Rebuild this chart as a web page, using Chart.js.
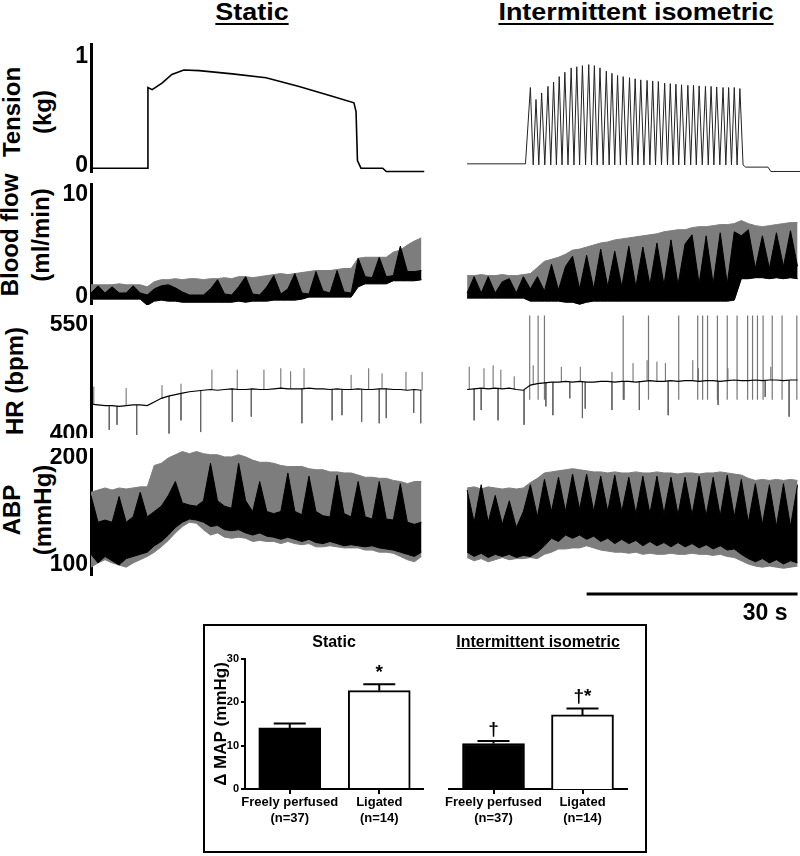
<!DOCTYPE html>
<html>
<head>
<meta charset="utf-8">
<script src="https://cdn.jsdelivr.net/npm/chart.js"></script>
<style>
body { margin: 0; background: #fff; }
#page { position: relative; width: 800px; height: 856px; overflow: hidden; font-family: 'Liberation Sans', Arial, sans-serif; font-weight: bold; color: #000; }
#page canvas { position: absolute; left: 0; }
.head { position: absolute; top: 0; font-size: 23px; line-height: 24px; white-space: nowrap; text-decoration: underline; text-decoration-thickness: 2px; text-underline-offset: 3px; transform: translateX(-50%) scaleX(1.17); }
.rowlab { position: absolute; font-size: 24px; line-height: 31px; text-align: center; white-space: nowrap; transform: translate(-50%, -50%) rotate(-90deg); }
.inset { position: absolute; left: 203px; top: 624px; width: 444px; height: 229px; border: 2px solid #000; box-sizing: border-box; }
.subhead { position: absolute; font-size: 16px; line-height: 18px; white-space: nowrap; transform: translateX(-50%); }
</style>
</head>
<body>
<div id="page">
  <div class="head" style="left:252px">Static</div>
  <div class="head" style="left:636px">Intermittent isometric</div>

  <div class="rowlab" style="left:27px; top:112px">Tension<br>(kg)</div>
  <div class="rowlab" style="left:25px; top:235px">Blood flow<br>(ml/min)</div>
  <div class="rowlab" style="left:14px; top:381px">HR (bpm)</div>
  <div class="rowlab" style="left:27px; top:510px">ABP<br>(mmHg)</div>

  <canvas id="chartTension"></canvas>
  <canvas id="chartFlow"></canvas>
  <canvas id="chartHeartRate"></canvas>
  <canvas id="chartPressure"></canvas>

  <div class="inset"></div>
  <div class="subhead" style="left:334px; top:633px">Static</div>
  <div class="subhead" style="left:538px; top:633px; text-decoration:underline">Intermittent isometric</div>
  <canvas id="chartStaticMap"></canvas>
  <canvas id="chartIntMap"></canvas>
</div>

<script>
// ---- trace data (time in s from the start of each panel, one sample per second unless timed) ----
var intOffset = 53.5;   // the intermittent panel starts 53.5 s along the shared time axis
var xMax = 100.85;

// tension (kg)
var staticTensionTime = [0, 7.97, 8.1, 8.7, 10.1, 11.5, 13.2, 15.4, 20.1, 24.9, 29.6, 34.3, 37.4, 37.7, 37.9, 38.4, 41.5, 42.0, 47.4];
var staticTensionValue = [-0.02, -0.02, 0.72, 0.70, 0.76, 0.84, 0.88, 0.875, 0.845, 0.81, 0.73, 0.64, 0.58, 0.50, 0.05, -0.02, -0.02, -0.05, -0.05];
var intTensionPreTime = [0, 8.3];
var intTensionPreValue = [0.02, 0.02];
var intContractionTime = [9.0, 9.8, 10.6, 11.5, 12.3, 13.1, 13.9, 14.8, 15.6, 16.4, 17.3, 18.1, 18.9, 19.8, 20.6, 21.4, 22.2, 23.1, 23.9,
  24.7, 25.6, 26.4, 27.2, 28.1, 28.9, 29.7, 30.5, 31.4, 32.2, 33.0, 33.9, 34.7, 35.5, 36.4, 37.2, 38.0, 38.8];
var intTensionPeaks = [0.72, 0.61, 0.67, 0.73, 0.77, 0.82, 0.86, 0.90, 0.91, 0.92, 0.93, 0.92, 0.90, 0.87, 0.85, 0.83, 0.82, 0.81, 0.80,
  0.79, 0.785, 0.78, 0.775, 0.76, 0.755, 0.75, 0.745, 0.74, 0.74, 0.735, 0.73, 0.73, 0.725, 0.72, 0.72, 0.72, 0.71];
var intTensionTrough = 0.01;
var intTensionPostTime = [39.6, 42.8, 43.2, 47.4];
var intTensionPostValue = [-0.01, -0.01, -0.05, -0.05];

// blood flow (ml/min): envelope of the pulse trace and top of the dark band
var staticFlowUpper = [1.2, 1.2, 1.2, 1.2, 1.3, 1.2, 1.2, 1.2, 1.0, 1.5, 1.7, 1.7, 1.8, 1.7, 1.8, 1.8, 1.7, 1.8, 1.8, 1.9, 1.8, 2.0, 2.0, 1.9,
  2.0, 2.1, 2.2, 2.3, 2.2, 2.3, 2.4, 2.5, 2.6, 2.6, 2.6, 2.7, 2.8, 2.8, 3.8, 3.9, 3.9, 3.9, 3.9, 4.4, 4.6, 5.1, 5.5, 5.8];
var staticFlowLower = [-0.2, -0.2, -0.2, -0.2, -0.2, -0.2, -0.2, -0.2, -0.8, -0.4, -0.3, -0.4, -0.4, -0.5, -0.5, -0.5, -0.5, -0.5, -0.5, -0.5, -0.5, -0.4, -0.5, -0.4,
  -0.4, -0.4, -0.3, -0.3, -0.3, -0.3, -0.2, 0.0, 0.0, 0.0, 0.0, 0.0, 0.0, 0.0, 1.0, 1.3, 1.3, 1.3, 1.3, 1.6, 1.6, 1.6, 1.6, 1.7];
var staticFlowDark = [0.4, 1.1, 0.4, 1.0, 0.4, 0.4, 1.1, 0.4, 0.2, 0.8, 1.1, 1.2, 0.9, 0.5, 0.2, 0.2, 0.2, 0.8, 1.7, 0.3, 0.2, 1.0, 2.0, 0.3,
  0.2, 1.0, 2.1, 0.3, 0.8, 2.3, 0.4, 0.3, 2.5, 0.6, 0.4, 2.6, 0.5, 0.4, 3.8, 2.0, 1.9, 3.9, 2.0, 2.1, 5.0, 2.5, 2.5, 2.6];
var intFlowUpper = [2.1, 2.1, 2.2, 2.1, 2.1, 2.2, 2.1, 2.1, 2.2, 2.3, 2.9, 3.5, 3.7, 3.9, 4.2, 4.6, 4.7, 4.9, 5.1, 5.3, 5.4, 5.6, 5.7, 5.8,
  5.9, 6.0, 6.1, 6.2, 6.4, 6.5, 6.6, 6.6, 6.8, 6.9, 6.9, 7.0, 7.1, 7.1, 7.2, 7.5, 7.2, 7.0, 6.9, 7.0, 7.1, 7.2, 7.3, 7.3];
var intFlowLower = [-0.1, -0.1, -0.1, -0.1, -0.1, -0.1, -0.1, -0.1, -0.1, -0.4, -0.4, -0.4, -0.4, -0.4, -0.5, -0.5, -0.7, -0.5, -0.4, -0.4, -0.4, -0.4, -0.4, -0.4,
  -0.4, -0.4, -0.4, -0.4, -0.4, -0.4, -0.4, -0.4, -0.4, -0.4, -0.4, -0.4, -0.4, -0.4, -0.3, 1.8, 1.8, 1.9, 1.9, 1.8, 1.9, 1.8, 1.9, 1.8];
var intFlowDark = [0.4, 2.0, 0.4, 2.0, 0.4, 1.5, 1.8, 0.4, 2.0, 0.8, 2.0, 0.6, 3.2, 0.7, 3.0, 4.0, 0.8, 4.1, 0.8, 4.7, 1.0, 4.5, 1.0, 5.0,
  1.0, 4.9, 1.2, 5.3, 1.2, 5.6, 1.2, 5.2, 6.1, 1.3, 6.0, 1.3, 6.3, 1.3, 6.4, 6.0, 6.6, 2.8, 6.0, 2.8, 6.3, 3.0, 6.5, 3.0];

// heart rate (bpm): running trace and the single-beat spikes
var staticHeartRate = [442, 441, 440, 440, 439, 440, 441, 441, 440, 445, 450, 453, 455, 457, 459, 460, 461, 462, 461, 462, 463, 462, 462, 463,
  462, 462, 463, 464, 463, 463, 463, 464, 463, 463, 462, 463, 462, 462, 463, 462, 462, 463, 463, 462, 462, 461, 462, 461];
var intHeartRate = [462, 463, 464, 463, 464, 463, 464, 462, 461, 468, 470, 471, 472, 472, 473, 472, 473, 472, 472, 473, 473, 472, 473, 473,
  472, 473, 474, 473, 473, 474, 473, 474, 474, 473, 474, 474, 473, 474, 475, 474, 474, 475, 474, 475, 475, 474, 475, 475];
var staticSpikeTime = [0.4, 2.6, 3.7, 5.0, 6.5, 10.1, 11.1, 12.8, 12.8, 15.6, 17.2, 20.1, 20.8, 22.8, 24.6, 27.0, 28.4, 30.0, 30.3, 34.3,
  35.7, 37.0, 38.5, 39.5, 41.0, 41.4, 42.0, 44.8, 45.9, 46.9, 47.1];
var staticSpikeTip = [466, 407, 414, 464, 400, 468, 402, 470, 420, 404, 489, 418, 489, 425, 489, 491, 487, 416, 491, 420,
  427, 482, 418, 491, 416, 484, 423, 486, 430, 416, 486];
var intSpikeTime = [0.3, 1.0, 2.0, 2.4, 3.7, 4.4, 4.8, 6.7, 8.1, 9.4, 11.2, 12.2, 13.4, 14.6, 16.1, 16.4, 16.8, 20.6, 20.6, 22.3, 23.6, 24.5,
  25.6, 27.0, 28.2, 28.6, 32.1, 32.9, 35.7, 37.1, 42.4, 43.2, 45.8];
var intSpikeTip = [493, 420, 434, 491, 495, 420, 489, 480, 414, 495, 439, 427, 493, 450, 493, 423, 436, 486, 434, 448, 498, 434,
  502, 500, 498, 427, 502, 491, 441, 491, 452, 493, 425];
var intBurstTime = [8.9, 10.1, 11.0, 22.2, 25.8, 30.1, 32.8, 33.5, 34.2, 35.6, 37.0, 38.4, 39.9, 40.6, 41.3, 42.1, 43.4, 44.8, 46.9];
var intBurstLow = 448;
var intBurstHigh = 563;

// arterial blood pressure (mmHg): envelope and dark band
var staticPressureUpper = [168, 170, 172, 170, 172, 171, 172, 173, 173, 193, 195, 200, 203, 206, 204, 206, 204, 203, 203, 201, 201, 203, 201, 198,
  196, 196, 195, 193, 192, 192, 192, 190, 189, 189, 187, 187, 186, 186, 184, 182, 182, 181, 181, 179, 178, 176, 178, 178];
var staticPressureLower = [98, 102, 105, 102, 100, 98, 102, 105, 108, 112, 117, 123, 130, 136, 140, 139, 133, 128, 130, 126, 125, 126, 125, 122,
  123, 122, 122, 120, 122, 120, 119, 120, 117, 117, 118, 117, 116, 116, 116, 114, 114, 112, 112, 111, 108, 105, 103, 108];
var staticPressureDarkTop = [165, 140, 142, 140, 164, 140, 145, 168, 145, 150, 155, 165, 178, 158, 156, 155, 160, 195, 160, 155, 153, 195, 160, 150,
  178, 150, 148, 150, 186, 150, 147, 183, 150, 146, 145, 184, 148, 145, 178, 145, 143, 178, 143, 142, 176, 140, 138, 140];
var staticPressureDarkBottom = [110, 102, 108, 104, 100, 106, 108, 110, 112, 118, 122, 128, 135, 140, 143, 142, 140, 136, 137, 133, 132, 133, 130, 128,
  130, 127, 126, 124, 126, 124, 122, 124, 121, 120, 122, 120, 118, 119, 118, 117, 118, 116, 115, 114, 112, 110, 108, 112];
var intPressureUpper = [172, 173, 171, 173, 172, 171, 172, 171, 172, 177, 181, 186, 187, 188, 189, 190, 189, 188, 187, 187, 186, 187, 186, 186,
  187, 186, 186, 187, 186, 186, 185, 186, 186, 185, 186, 186, 187, 186, 185, 184, 181, 179, 180, 179, 180, 179, 180, 179];
var intPressureLower = [107, 104, 106, 103, 105, 107, 105, 106, 106, 107, 106, 110, 112, 115, 115, 116, 116, 118, 116, 114, 113, 112, 112, 111,
  112, 110, 111, 110, 110, 111, 110, 110, 111, 110, 110, 109, 110, 108, 107, 104, 101, 99, 98, 99, 98, 97, 98, 99];
var intPressureDarkTop = [170, 140, 175, 140, 165, 138, 160, 135, 150, 175, 145, 180, 150, 182, 150, 185, 152, 185, 150, 183, 150, 184, 150, 182,
  148, 183, 148, 183, 148, 182, 147, 182, 147, 183, 146, 182, 146, 184, 145, 180, 140, 176, 138, 175, 136, 176, 136, 175];
var intPressureDarkBottom = [112, 108, 111, 107, 110, 108, 110, 107, 109, 108, 112, 118, 125, 122, 128, 125, 128, 124, 127, 122, 125, 120, 124, 120,
  123, 118, 122, 118, 121, 117, 121, 117, 120, 116, 119, 115, 118, 114, 115, 110, 106, 103, 106, 102, 105, 101, 104, 102];

var scaleBarEnd = 100.5;
var scaleBarSeconds = 30;

// ---- bar chart data ----
var mapCategories = [['Freely perfused', '(n=37)'], ['Ligated', '(n=14)']];
var staticMapMean = [14.1, 22.7];
var staticMapSem = [1.0, 1.5];
var staticMapMarks = ['', '*'];
var intMapMean = [10.5, 17.1];
var intMapSem = [0.6, 1.5];
var intMapMarks = ['\u2020', '\u2020*'];
var mapBarColors = ['#000', '#fff'];

var FONT = "'Liberation Sans', Arial, sans-serif";
var GRAY = '#7d7d7d';

function pairs(times, values, offset) {
	return times.map(function (t, i) { return { x: offset + t, y: values[i] }; });
}

function perSecond(values, offset) {
	return values.map(function (v, i) { return { x: offset + i, y: v }; });
}

function line(data, color, width, fill) {
	return { data: data, borderColor: color, backgroundColor: color, borderWidth: width, fill: fill || false, pointRadius: 0, tension: 0 };
}

function band(upper, lower, offset, color) {
	return [line(perSecond(upper, offset), color, 1, '+1'), line(perSecond(lower, offset), color, 1)];
}

// chart.js paints the last dataset first, so the dark band goes before the grey envelope
function pulseTrace(upper, lower, darkTop, darkBottom, offset) {
	return band(darkTop, darkBottom, offset, '#000').concat(band(upper, lower, offset, GRAY));
}

function contractionPoints() {
	var pts = pairs(intTensionPreTime, intTensionPreValue, intOffset);
	intContractionTime.forEach(function (t, i) {
		pts.push({ x: intOffset + t, y: intTensionPeaks[i] });
		var next = i < intContractionTime.length - 1 ? (t + intContractionTime[i + 1]) / 2 : t + 0.45;
		pts.push({ x: intOffset + next, y: intTensionTrough });
	});
	return pts.concat(pairs(intTensionPostTime, intTensionPostValue, intOffset));
}

function spikePoints(times, tips, trace, offset) {
	var pts = [];
	times.forEach(function (t, i) {
		var base = trace[Math.min(Math.round(t), trace.length - 1)];
		pts.push({ x: offset + t, y: base }, { x: offset + t, y: tips[i] }, { x: offset + t, y: null });
	});
	return pts;
}

function burstPoints() {
	var pts = [];
	intBurstTime.forEach(function (t) {
		pts.push({ x: intOffset + t, y: intBurstLow }, { x: intOffset + t, y: intBurstHigh }, { x: intOffset + t, y: null });
	});
	return pts;
}

function traceChart(id, top, height, yMin, yMax, yTicks, datasets, padBottom, plugins) {
	var canvas = document.getElementById(id);
	canvas.width = 800;
	canvas.height = height + (padBottom || 0);
	canvas.style.top = top + 'px';
	return new Chart(canvas.getContext('2d'), {
		type: 'line',
		data: { datasets: datasets },
		options: {
			responsive: false,
			animation: false,
			devicePixelRatio: 1,
			events: [],
			layout: { padding: { bottom: padBottom || 0 } },
			plugins: { legend: { display: false }, tooltip: { enabled: false } },
			scales: {
				x: { type: 'linear', display: false, min: 0, max: xMax },
				y: {
					min: yMin,
					max: yMax,
					afterBuildTicks: function (s) { s.ticks = yTicks.map(function (v) { return { value: v }; }); },
					afterFit: function (s) { s.width = 91; s.paddingTop = 0; s.paddingBottom = 0; },
					grid: { display: false, drawTicks: false },
					border: { display: true, width: 3, color: '#000' },
					ticks: { color: '#000', padding: 3, font: { family: FONT, size: 23, weight: 'bold' } }
				}
			}
		},
		plugins: plugins || []
	});
}

// scale bar drawn under the pressure traces from the shared time axis
var scaleBar = {
	id: 'scaleBar',
	afterDraw: function (chart) {
		var ctx = chart.ctx;
		var x0 = chart.scales.x.getPixelForValue(scaleBarEnd - scaleBarSeconds);
		var x1 = chart.scales.x.getPixelForValue(scaleBarEnd);
		var y = chart.chartArea.bottom + 19;
		ctx.save();
		ctx.strokeStyle = '#000';
		ctx.lineWidth = 3;
		ctx.beginPath();
		ctx.moveTo(x0, y);
		ctx.lineTo(x1, y);
		ctx.stroke();
		ctx.fillStyle = '#000';
		ctx.font = 'bold 23px ' + FONT;
		ctx.textAlign = 'right';
		ctx.fillText(scaleBarSeconds + ' s', x1 - 10, y + 26);
		ctx.restore();
	}
};

traceChart('chartTension', 43, 130, -0.064, 1.128, [0, 1], [
	line(pairs(staticTensionTime, staticTensionValue, 0), '#000', 1.6),
	line(contractionPoints(), '#222', 1)
]);

traceChart('chartFlow', 183, 122, -0.78, 11.18, [0, 10], []
	.concat(pulseTrace(staticFlowUpper, staticFlowLower, staticFlowDark, staticFlowLower, 0))
	.concat(pulseTrace(intFlowUpper, intFlowLower, intFlowDark, intFlowLower, intOffset)));

traceChart('chartHeartRate', 315, 123, 395.9, 563.6, [400, 550], [
	line(perSecond(staticHeartRate, 0), '#000', 1.2),
	line(perSecond(intHeartRate, intOffset), '#000', 1.2),
	line(spikePoints(staticSpikeTime, staticSpikeTip, staticHeartRate, 0), '#666', 1),
	line(spikePoints(intSpikeTime, intSpikeTip, intHeartRate, intOffset), '#666', 1),
	line(burstPoints(), '#777', 1.2)
]);

traceChart('chartPressure', 448, 127, 90.7, 209.3, [100, 200], []
	.concat(pulseTrace(staticPressureUpper, staticPressureLower, staticPressureDarkTop, staticPressureDarkBottom, 0))
	.concat(pulseTrace(intPressureUpper, intPressureLower, intPressureDarkTop, intPressureDarkBottom, intOffset)), 50, [scaleBar]);

// ---- MAP bar charts ----
function errorBars(mean, sem, marks) {
	return {
		id: 'errorBars',
		afterDatasetsDraw: function (chart) {
			var ctx = chart.ctx, xs = chart.scales.x, ys = chart.scales.y;
			ctx.save();
			ctx.strokeStyle = '#000';
			ctx.fillStyle = '#000';
			ctx.lineWidth = 2;
			ctx.textAlign = 'center';
			ctx.textBaseline = 'bottom';
			ctx.font = 'bold 19px ' + FONT;
			mean.forEach(function (m, i) {
				var x = xs.getPixelForValue(i);
				var yBar = ys.getPixelForValue(m);
				var yTop = ys.getPixelForValue(m + sem[i]);
				ctx.beginPath();
				ctx.moveTo(x, yBar);
				ctx.lineTo(x, yTop);
				ctx.moveTo(x - 16, yTop);
				ctx.lineTo(x + 16, yTop);
				ctx.stroke();
				ctx.fillText(marks[i], x, yTop - 2);
			});
			ctx.restore();
		}
	};
}

function mapChart(id, left, width, mean, sem, marks, showY, pad) {
	var canvas = document.getElementById(id);
	canvas.width = width;
	canvas.height = 183;
	canvas.style.left = left + 'px';
	canvas.style.top = '651px';
	return new Chart(canvas.getContext('2d'), {
		type: 'bar',
		data: {
			labels: mapCategories,
			datasets: [{ data: mean, backgroundColor: mapBarColors, borderColor: '#000', borderWidth: 2, barThickness: 62 }]
		},
		options: {
			responsive: false,
			animation: false,
			devicePixelRatio: 1,
			events: [],
			layout: { padding: { top: 8, left: pad, right: pad } },
			plugins: { legend: { display: false }, tooltip: { enabled: false } },
			scales: {
				x: {
					afterFit: function (s) { s.height = 45; s.paddingLeft = 0; s.paddingRight = 0; },
					grid: { display: true, drawOnChartArea: false, offset: false, tickLength: 5, color: '#000', lineWidth: 2 },
					border: { display: true, color: '#000', width: 2 },
					ticks: { color: '#000', padding: 1, maxRotation: 0, minRotation: 0, autoSkip: false, font: { family: FONT, size: 13, weight: 'bold' } }
				},
				y: {
					display: showY,
					min: 0,
					max: 30,
					afterFit: function (s) { s.width = showY ? 45 : 0; s.paddingTop = 0; s.paddingBottom = 0; },
					grid: { drawOnChartArea: false, tickLength: 4, color: '#000', lineWidth: 2 },
					border: { display: true, color: '#000', width: 2 },
					ticks: { stepSize: 10, color: '#000', padding: 2, font: { family: FONT, size: 11, weight: 'bold' } },
					title: { display: true, text: '\u0394 MAP (mmHg)', color: '#000', padding: { top: 11, bottom: 0 }, font: { family: FONT, size: 17, weight: 'bold' } }
				}
			}
		},
		plugins: [errorBars(mean, sem, marks)]
	});
}

mapChart('chartStaticMap', 200, 224, staticMapMean, staticMapSem, staticMapMarks, true, 0);
mapChart('chartIntMap', 429, 218, intMapMean, intMapSem, intMapMarks, false, 20);
</script>
</body>
</html>
